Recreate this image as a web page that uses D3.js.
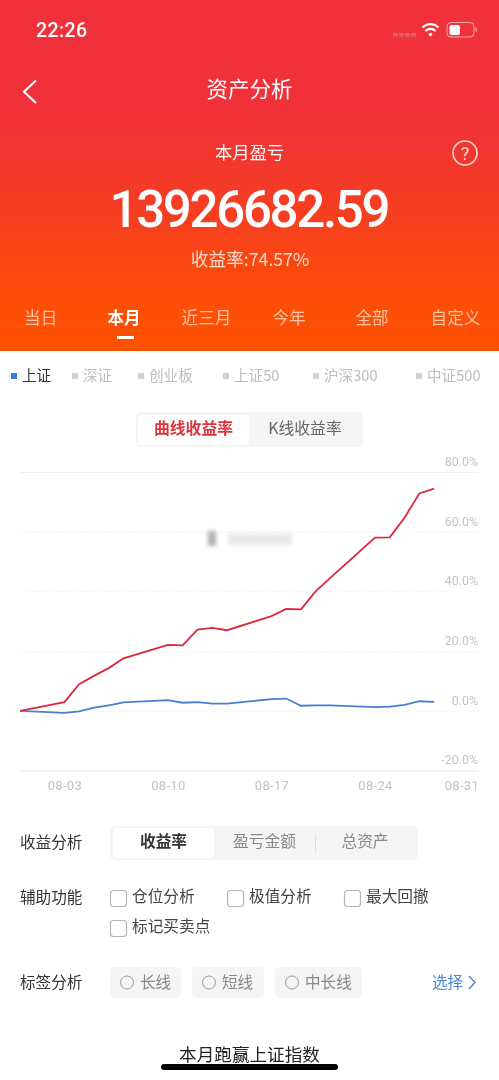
<!DOCTYPE html>
<html><head><meta charset="utf-8">
<script src="https://cdn.jsdelivr.net/npm/d3@7"></script>
<style>html,body{margin:0;padding:0;background:#fff}svg{display:block;filter:blur(.3px)}text{font-family:"Noto Sans CJK SC","Noto Sans",sans-serif}</style>
</head><body><div id="c"></div>
<script>
const dates = ["2020-07-31","2020-08-03","2020-08-04","2020-08-05","2020-08-06","2020-08-07","2020-08-10","2020-08-11","2020-08-12","2020-08-13","2020-08-14","2020-08-17","2020-08-18","2020-08-19","2020-08-20","2020-08-21","2020-08-24","2020-08-25","2020-08-26","2020-08-27","2020-08-28"];
const portfolio = [0,2.9,8.9,11.7,14.3,17.6,22.1,21.9,27.2,27.8,27.0,31.7,34.1,34.0,40.1,44.6,58.0,58.1,64.7,72.8,74.4];
const index = [0,-0.7,-0.2,1.1,1.8,2.8,3.6,2.7,2.9,2.4,2.4,3.9,4.1,1.7,1.8,1.8,1.2,1.4,2.0,3.2,3.0];
const yTicks = [-20,0,20,40,60,80];
const xTicks = ["2020-08-03","2020-08-10","2020-08-17","2020-08-24","2020-08-31"];
const periods = ["当日","本月","近三月","今年","全部","自定义"];
const indices = ["上证","深证","创业板","上证50","沪深300","中证500"];

const parse = d3.utcParse("%Y-%m-%d");
const W=499,H=1080;
const svg=d3.select("#c").append("svg").attr("width",W).attr("height",H).attr("viewBox",`0 0 ${W} ${H}`);
const defs=svg.append("defs");
const g=defs.append("linearGradient").attr("id","hd").attr("x1",0).attr("y1",0).attr("x2",0).attr("y2",1);
[[0,"#f0303b"],[0.33,"#f03139"],[0.62,"#f63f20"],[0.85,"#fd4e08"],[1,"#fe5103"]].forEach(([o,c])=>g.append("stop").attr("offset",o).attr("stop-color",c));
defs.append("filter").attr("id","bl").attr("x","-20%").attr("y","-50%").attr("width","140%").attr("height","200%").append("feGaussianBlur").attr("stdDeviation",2);
function T(s,x,y,size,fill,anchor="middle",weight=400,font){
  const dy=font?0:-size*0.09;
  const t=svg.append("text").attr("x",x).attr("y",y+dy).attr("font-size",size).attr("fill",fill).attr("text-anchor",anchor).attr("font-weight",weight).attr("dominant-baseline","central").text(s);
  if(font)t.style("font-family",font);return t;
}
function R(x,y,w,h,fill,r=0,stroke){const e=svg.append("rect").attr("x",x).attr("y",y).attr("width",w).attr("height",h).attr("fill",fill).attr("rx",r);if(stroke)e.attr("stroke",stroke).attr("stroke-width",1.2);return e;}

// header
R(0,0,W,351,"url(#hd)");
T("22:26",36,30,19.5,"#fff","start",500,"Roboto").attr("letter-spacing",.4);
[393,399,405,411].forEach(x=>R(x,33,5,3.5,"#d9646a"));
const wifi=svg.append("g").attr("fill","none").attr("stroke","#fff").attr("stroke-linecap","butt");
wifi.append("path").attr("d","M422.5 27.5 A11 11 0 0 1 438.5 27.5").attr("stroke-width",2.2);
wifi.append("path").attr("d","M425.5 31 A7 7 0 0 1 435.5 31").attr("stroke-width",2.2);
svg.append("circle").attr("cx",430.5).attr("cy",34.5).attr("r",1.8).attr("fill","#fff");
R(447,22.5,27,14.5,"none",4).attr("stroke","#f6b0b0").attr("stroke-width",1);
R(449.5,25,10.5,10,"#fff",2);
R(475.5,27.5,1.5,4.5,"#f08a8a",.7);
svg.append("path").attr("d","M36 80.5 L24 91.7 L36 103").attr("fill","none").attr("stroke","#fff").attr("stroke-width",2);
T("资产分析",249.5,89,21.5,"#fff");
T("本月盈亏",249.5,153,17.3,"#fff");
svg.append("circle").attr("cx",465).attr("cy",153).attr("r",12).attr("fill","none").attr("stroke","#f7dcd6").attr("stroke-width",1.6);
T("?",465,153,18,"#f7dcd6","middle",400,"Roboto");
T("13926682.59",250,209.5,51,"#fff","middle",500,"Roboto").attr("textLength",281);
T("收益率:74.57%",250,260,17.7,"#fbdccb");
const tabX=[40.7,124,206.5,289,372,455.5];
periods.forEach((p,i)=>T(p,tabX[i],318,16.6,i==1?"#fff":"#fdc4a6","middle",i==1?700:400));
R(117,336,17,3,"#fff");

// index selector
const sqX=[11,72,138,223,313,416];
indices.forEach((s,i)=>{
  R(sqX[i],373,6,6,i==0?"#3a7be0":"#d2d2d2");
  T(s,sqX[i]+11,376,14.6,i==0?"#333":"#bdbdbd","start");
});
R(136,412,227,35,"#f5f5f5",5);
R(138,415,111,30,"#fff",4);
T("曲线收益率",193.5,429,15.8,"#e0323e","middle",600);
T("K线收益率",305,429,15.8,"#666");

// chart
const x=d3.scaleUtc().domain([parse("2020-07-31"),parse("2020-08-31")]).range([20,478.5]);
const y=d3.scaleLinear().domain([-20,80]).range([770.5,472]);
const yAxis=d3.axisRight(y).tickValues(yTicks).tickSize(458.5).tickFormat(d=>d.toFixed(1)+"%");
const ya=svg.append("g").attr("transform","translate(20,0)").call(yAxis);
ya.select(".domain").remove();
ya.selectAll("line").attr("stroke",d=>(d==-20)?"#e8e8e8":"#efefef").attr("stroke-dasharray",d=>(d==-20||d==80)?null:"1.5 1.5");
ya.selectAll("text").attr("x",458).attr("dy",null).attr("y",-11.2).attr("text-anchor","end").attr("dominant-baseline","central").attr("fill","#c4c4c4").attr("font-size",12.4).style("font-family","Roboto");
const xa=svg.append("g").attr("transform","translate(0,770.5)").call(d3.axisBottom(x).tickValues(xTicks.map(parse)).tickSize(0).tickFormat(d3.utcFormat("%m-%d")));
xa.select(".domain").remove();
xa.selectAll("text").attr("y",14.5).attr("dy",null).attr("dominant-baseline","central").attr("fill","#c2c2c2").attr("font-size",13).attr("letter-spacing",.3).style("font-family","Roboto");
xa.selectAll("text").filter((d,i)=>i==xTicks.length-1).attr("text-anchor","end");
const line=d3.line().x((d,i)=>x(parse(dates[i]))).y(d=>y(d));
svg.append("path").datum(index).attr("d",line).attr("fill","none").attr("stroke","#4a7fd0").attr("stroke-width",1.8);
svg.append("path").datum(portfolio).attr("d",line).attr("fill","none").attr("stroke","#d8293f").attr("stroke-width",1.8);
// blurred watermark
const wm=svg.append("g").attr("filter","url(#bl)").attr("fill","#cfcfcf");
wm.append("rect").attr("x",208).attr("y",531).attr("width",8).attr("height",15).attr("fill","#b0b0b0");
wm.append("rect").attr("x",228).attr("y",534).attr("width",64).attr("height",11).attr("opacity",.5);

// controls
T("收益分析",20,842,15.6,"#333","start");
R(110,826,308,34,"#f5f5f5",5);
R(113,828,101,30,"#fff",4);
T("收益率",163.5,842,15.7,"#333","middle",600);
T("盈亏金额",264.5,842,15.8,"#888");
R(315,835,1,17,"#ddd");
T("总资产",365,842,15.7,"#888");
T("辅助功能",20,897,15.6,"#333","start");
[[110,890,"仓位分析"],[227,890,"极值分析"],[344,890,"最大回撤"],[110,920,"标记买卖点"]].forEach(([cx,cy,s])=>{
  R(cx+.5,cy+.5,16,16,"#fff",3,"#b5b5b5");
  T(s,cx+22,cy+7,15.7,"#444","start");
});
T("标签分析",20,982,15.6,"#333","start");
[[110,71,"长线"],[192,72,"短线"],[275,87,"中长线"]].forEach(([cx,w,s])=>{
  R(cx,967,w,31,"#f5f5f5",5);
  svg.append("circle").attr("cx",cx+17).attr("cy",982.5).attr("r",6.5).attr("fill","none").attr("stroke","#999").attr("stroke-width",1);
  T(s,cx+30,982,15.6,"#888","start");
});
T("选择",432,982,15.6,"#4a86d4","start");
svg.append("path").attr("d","M469 976 L475 982.5 L469 989").attr("fill","none").attr("stroke","#4a86d4").attr("stroke-width",1.4);
T("本月跑赢上证指数",249.5,1055,17.6,"#222");
R(161,1064,177,6,"#000",3);
</script></body></html>
